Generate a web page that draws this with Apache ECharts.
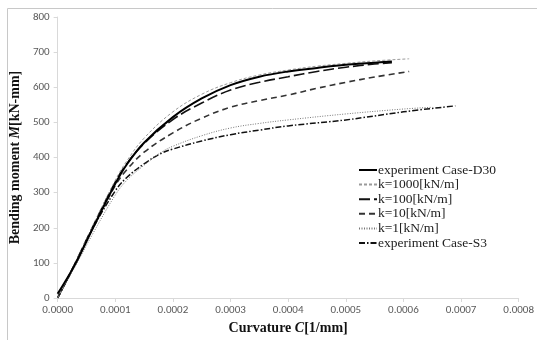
<!DOCTYPE html>
<html>
<head>
<meta charset="utf-8">
<script src="https://cdn.jsdelivr.net/npm/echarts@6/dist/echarts.min.js"></script>
<style>
  html, body { margin: 0; padding: 0; background: #fff; }
  #chart { width: 537px; height: 340px; }
</style>
</head>
<body>
<div id="chart"></div>
<script>
// curvature C [1/mm], moment M [kN-mm]
const d30C = [0, 0.00003, 0.00006, 0.0001, 0.00012, 0.00015, 0.0002, 0.00025, 0.0003, 0.00035, 0.0004, 0.00045, 0.0005, 0.00055, 0.00058];
const d30M = [12, 95, 195, 325, 380, 442, 515, 568, 606, 630, 645, 655, 664, 670, 673];

const k1000C = [0, 0.00003, 0.00006, 0.0001, 0.00012, 0.00015, 0.0002, 0.00025, 0.0003, 0.00035, 0.0004, 0.00045, 0.0005, 0.00055, 0.00061];
const k1000M = [0, 98, 202, 335, 390, 455, 530, 580, 613, 635, 649, 660, 668, 675, 681];

const k100C = [0, 0.00003, 0.00006, 0.0001, 0.00012, 0.00015, 0.0002, 0.00025, 0.0003, 0.00035, 0.0004, 0.00045, 0.0005, 0.00055, 0.00058];
const k100M = [0, 98, 200, 330, 382, 440, 508, 555, 592, 614, 630, 645, 657, 666, 670];

const k10C = [0, 0.00003, 0.00006, 0.0001, 0.00012, 0.00015, 0.0002, 0.00025, 0.0003, 0.00035, 0.0004, 0.00045, 0.0005, 0.00055, 0.00061];
const k10M = [0, 96, 196, 320, 365, 415, 470, 512, 543, 562, 578, 597, 614, 629, 645];

const k1C = [0, 0.00003, 0.00006, 0.0001, 0.00012, 0.00015, 0.00018, 0.0002, 0.00025, 0.0003, 0.00035, 0.0004, 0.0005, 0.0006, 0.00065];
const k1M = [0, 88, 180, 293, 335, 378, 415, 432, 462, 484, 497, 507, 524, 538, 543];

const s3C = [0, 0.00003, 0.00006, 0.0001, 0.00012, 0.00015, 0.00018, 0.0002, 0.00025, 0.0003, 0.00035, 0.0004, 0.0005, 0.0006, 0.00069];
const s3M = [0, 95, 195, 305, 343, 382, 412, 424, 447, 465, 478, 490, 507, 530, 547];

const seriesNames = ['experiment Case-D30', 'k=1000[kN/m]', 'k=100[kN/m]', 'k=10[kN/m]', 'k=1[kN/m]', 'experiment Case-S3'];
const xTicks = ['0.0000', '0.0001', '0.0002', '0.0003', '0.0004', '0.0005', '0.0006', '0.0007', '0.0008'];

function pairs(cs, ms) {
  return cs.map((c, i) => [c, ms[i]]);
}

const chart = echarts.init(document.getElementById('chart'), null, { renderer: 'canvas' });

const serif = '"Liberation Serif", "Times New Roman", serif';
const axisText = { color: '#595959', fontSize: 11, fontFamily: 'Carlito, "Liberation Sans", Arial, sans-serif' };

const styles = [
  { color: '#000', width: 2, type: 'solid' },
  { color: '#9a9a9a', width: 1, type: [3, 2] },
  { color: '#111', width: 1.6, type: [11, 4] },
  { color: '#333', width: 1.6, type: [6, 4] },
  { color: '#777', width: 1, type: [1, 1.5] },
  { color: '#111', width: 1.5, type: [6, 2, 1.5, 2] }
];
const dataSets = [
  pairs(d30C, d30M), pairs(k1000C, k1000M), pairs(k100C, k100M),
  pairs(k10C, k10M), pairs(k1C, k1M), pairs(s3C, s3M)
];

const option = {
  animation: false,
  graphic: [{
    type: 'rect',
    shape: { x: 7.5, y: 8.5, width: 540, height: 340 },
    style: { fill: 'none', stroke: '#c8c8c8', lineWidth: 1 },
    silent: true
  }],
  grid: { left: 57, right: 16, top: 17, bottom: 42 },
  legend: {
    orient: 'vertical',
    left: 353,
    top: 158,
    itemWidth: 18,
    itemHeight: 10,
    itemGap: 0.6,
    itemStyle: { opacity: 0 },
    textStyle: { fontFamily: serif, fontSize: 13.5, color: '#222', padding: [0, 0, 0, -4] },
    data: seriesNames
  },
  xAxis: {
    type: 'value',
    min: 0,
    max: 0.0008,
    interval: 0.0001,
    name: 'Curvature {i|C}[1/mm]',
    nameLocation: 'middle',
    nameGap: 22,
    nameTextStyle: {
      fontFamily: serif, fontSize: 14, fontWeight: 'bold', color: '#111',
      rich: { i: { fontFamily: serif, fontSize: 14, fontWeight: 'bold', fontStyle: 'italic', color: '#111' } }
    },
    axisLine: { lineStyle: { color: '#d9d9d9' } },
    axisTick: { show: true, length: 4, lineStyle: { color: '#d9d9d9' } },
    axisLabel: Object.assign({ margin: 7, formatter: (v) => xTicks[Math.round(v / 0.0001)] }, axisText),
    splitLine: { show: false }
  },
  yAxis: {
    type: 'value',
    min: 0,
    max: 800,
    interval: 100,
    name: 'Bending moment {i|M}[kN-mm]',
    nameLocation: 'middle',
    nameGap: 34,
    nameTextStyle: {
      fontFamily: serif, fontSize: 14, fontWeight: 'bold', color: '#111',
      rich: { i: { fontFamily: serif, fontSize: 14, fontWeight: 'bold', fontStyle: 'italic', color: '#111' } }
    },
    axisLine: { show: true, lineStyle: { color: '#d9d9d9' } },
    axisTick: { show: true, length: 4, lineStyle: { color: '#d9d9d9' } },
    axisLabel: Object.assign({ margin: 8 }, axisText),
    splitLine: { show: false }
  },
  series: seriesNames.map((name, i) => ({
    name: name,
    type: 'line',
    data: dataSets[i],
    smooth: 0.4,
    showSymbol: false,
    symbol: 'none',
    itemStyle: { color: styles[i].color },
    lineStyle: styles[i],
    z: 10 - i
  }))
};

chart.setOption(option);
</script>
</body>
</html>
